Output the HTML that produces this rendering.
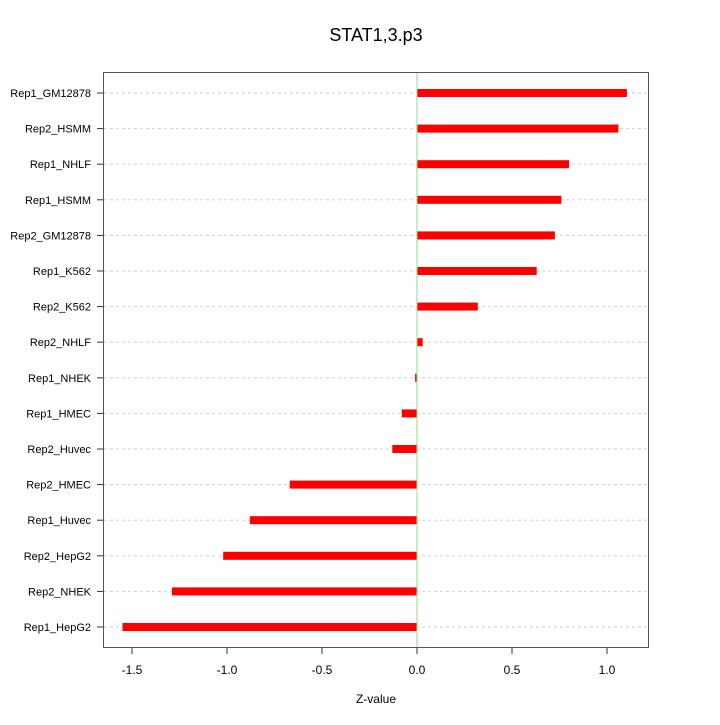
<!DOCTYPE html>
<html><head><meta charset="utf-8"><style>
html,body{margin:0;padding:0;background:#fff;}
svg text{font-family:"Liberation Sans",sans-serif;}
</style></head><body>
<svg id="chart" width="720" height="720" xmlns="http://www.w3.org/2000/svg">
<rect width="720" height="720" fill="#fff"/>
<text x="376" y="41" font-size="18" text-anchor="middle">STAT1,3.p3</text>
<g id="grid"></g>
<g id="bars"></g>
<line x1="417" y1="72" x2="417" y2="647" stroke="#8fd98f" stroke-width="1"/>
<rect x="103.5" y="72.5" width="545" height="575" fill="none" stroke="#555" stroke-width="1"/>
<g id="xaxis"></g>
<g id="yaxis"></g>
<text x="376" y="703" font-size="12" text-anchor="middle">Z-value</text>
</svg>
<script>
const categories = ["Rep1_GM12878","Rep2_HSMM","Rep1_NHLF","Rep1_HSMM","Rep2_GM12878","Rep1_K562","Rep2_K562","Rep2_NHLF","Rep1_NHEK","Rep1_HMEC","Rep2_Huvec","Rep2_HMEC","Rep1_Huvec","Rep2_HepG2","Rep2_NHEK","Rep1_HepG2"];
const values = [1.105,1.06,0.80,0.76,0.726,0.63,0.32,0.03,-0.01,-0.08,-0.13,-0.67,-0.88,-1.02,-1.29,-1.55];
const xTicks = [-1.5,-1.0,-0.5,0.0,0.5,1.0];
const xTickLabels = ["-1.5","-1.0","-0.5","0.0","0.5","1.0"];

const NS = "http://www.w3.org/2000/svg";
function x(v){ return 417 + v*190; }
function y(i){ return 93 + i*(627-93)/(categories.length-1); }
function mk(tag, attrs, parent){
  const e = document.createElementNS(NS, tag);
  for (const k in attrs) e.setAttribute(k, attrs[k]);
  document.getElementById(parent).appendChild(e);
  return e;
}
categories.forEach((c,i)=>{
  const g = mk("line",{x1:104,x2:648,y1:y(i),y2:y(i),stroke:"#d0d0d0","stroke-dasharray":"3,3"},"grid");
  
  
  const v = values[i];
  const b = mk("rect",{x:Math.min(x(0),x(v)),y:y(i)-4,width:Math.abs(x(v)-x(0)),height:8,fill:"#ff0000"},"bars");
  
  
  const t = mk("line",{x1:97,x2:103,y1:y(i),y2:y(i),stroke:"#333"},"yaxis");
  
  
  const l = mk("text",{x:91,y:y(i)+4,"font-size":"11","text-anchor":"end"},"yaxis");
  l.textContent = c;
  
  
});
xTicks.forEach((v,i)=>{
  const t = mk("line",{x1:x(v),x2:x(v),y1:648,y2:654,stroke:"#333"},"xaxis");
  
  
  const l = mk("text",{x:x(v),y:674,"font-size":"12","text-anchor":"middle"},"xaxis");
  l.textContent = xTickLabels[i];
  
  
});
</script>
</body></html>
